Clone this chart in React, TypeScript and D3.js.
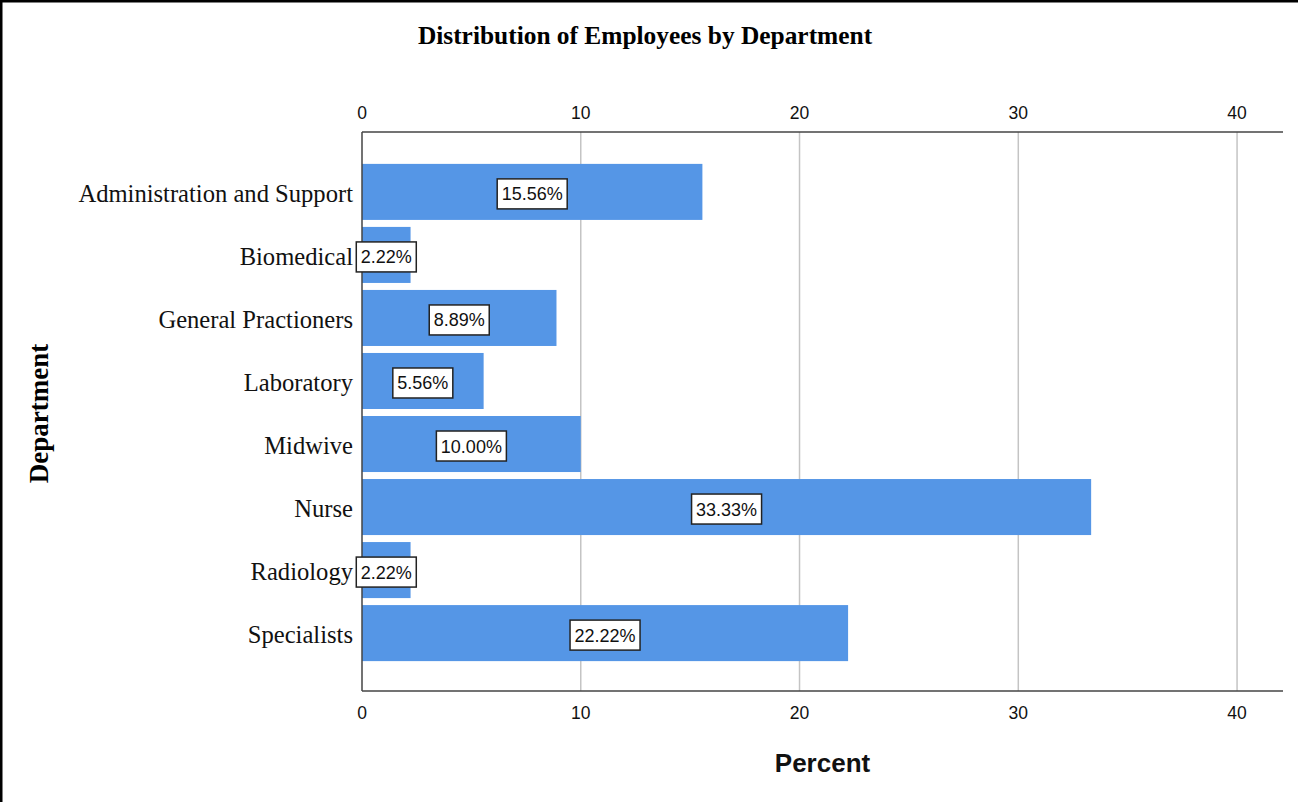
import React from "react";
import * as d3 from "d3";

// Department shares of all employees (percent)
const departments = [
  "Administration and Support",
  "Biomedical",
  "General Practioners",
  "Laboratory",
  "Midwive",
  "Nurse",
  "Radiology",
  "Specialists",
];
const percents = [15.56, 2.22, 8.89, 5.56, 10.0, 33.33, 2.22, 22.22];
const xTicks = [0, 10, 20, 30, 40];

const W = 1298;
const H = 802;
const plot = { left: 362, right: 1283, top: 132, bottom: 691 };

const SERIF = "'Liberation Serif', 'Times New Roman', serif";
const SANS = "'Liberation Sans', Arial, sans-serif";

export default function App() {
  const x = d3.scaleLinear().domain([0, 42.1]).range([plot.left, plot.right]);
  const y = d3
    .scaleBand<string>()
    .domain(departments)
    .range([plot.top + 1, plot.bottom + 1])
    .paddingInner(0.111)
    .paddingOuter(0.49);

  const rows = departments.map((d, i) => ({ name: d, value: percents[i] }));
  const labelWidth = (s: string) => {
    // approximate Arial advance widths at 18px
    let w = 0;
    for (const ch of s) w += ch === "." ? 5 : ch === "%" ? 16 : 10;
    return w;
  };

  return (
    <div style={{ position: "fixed", left: 0, top: 0, width: W, height: H, background: "#fff" }}>
      <svg width={W} height={H} style={{ display: "block" }}>
        <rect x={0} y={0} width={W} height={H} fill="#fff" />
        {/* outer frame */}
        <line x1={1.25} y1={0} x2={1.25} y2={H} stroke="#000" strokeWidth={2.5} />
        <line x1={0} y1={1.25} x2={W} y2={1.25} stroke="#000" strokeWidth={2.5} />

        <text x={645} y={44} textAnchor="middle" fontFamily={SERIF} fontWeight="bold" fontSize={25.4} fill="#000">
          Distribution of Employees by Department
        </text>

        {/* gridlines */}
        {xTicks.filter((t) => t > 0).map((t) => (
          <line key={"g" + t} x1={x(t)} x2={x(t)} y1={plot.top} y2={plot.bottom} stroke="#c4c4c4" strokeWidth={1.5} />
        ))}

        {/* bars */}
        {rows.map((r) => (
          <rect
            key={r.name}
            x={x(0)}
            y={y(r.name)}
            width={x(r.value) - x(0)}
            height={y.bandwidth()}
            fill="#5596e6"
          />
        ))}

        {/* axis frame lines */}
        <line x1={plot.left} x2={plot.right} y1={plot.top} y2={plot.top} stroke="#444" strokeWidth={1.5} />
        <line x1={plot.left} x2={plot.right} y1={plot.bottom} y2={plot.bottom} stroke="#444" strokeWidth={1.5} />
        <line x1={plot.left} x2={plot.left} y1={plot.top} y2={plot.bottom} stroke="#444" strokeWidth={1.5} />

        {/* tick labels, top and bottom */}
        {xTicks.map((t) => (
          <g key={"t" + t} fontFamily={SANS} fontSize={17.5} fill="#111" textAnchor="middle">
            <text x={x(t)} y={119}>{t}</text>
            <text x={x(t)} y={719}>{t}</text>
          </g>
        ))}

        {/* category labels */}
        {rows.map((r) => (
          <text
            key={"c" + r.name}
            x={353}
            y={(y(r.name) as number) + y.bandwidth() / 2 + 10}
            textAnchor="end"
            fontFamily={SERIF}
            fontSize={24.6}
            fill="#111"
          >
            {r.name}
          </text>
        ))}

        {/* value labels */}
        {rows.map((r) => {
          const s = r.value.toFixed(2) + "%";
          const cx = (x(0) + x(r.value)) / 2;
          const cy = (y(r.name) as number) + y.bandwidth() / 2 + 2;
          const bw = labelWidth(s) + 9;
          return (
            <g key={"v" + r.name}>
              <rect x={cx - bw / 2} y={cy - 15} width={bw} height={30} fill="#fff" stroke="#222" strokeWidth={1.5} />
              <text x={cx} y={cy + 6.5} textAnchor="middle" fontFamily={SANS} fontSize={18} fill="#111">
                {s}
              </text>
            </g>
          );
        })}

        {/* axis titles */}
        <text
          transform={`translate(48, ${(plot.top + plot.bottom) / 2 + 2}) rotate(-90)`}
          textAnchor="middle"
          fontFamily={SERIF}
          fontWeight="bold"
          fontSize={27}
          fill="#000"
        >
          Department
        </text>
        <text x={(plot.left + plot.right) / 2} y={772} textAnchor="middle" fontFamily={SANS} fontWeight="bold" fontSize={26} fill="#111">
          Percent
        </text>
      </svg>
    </div>
  );
}
